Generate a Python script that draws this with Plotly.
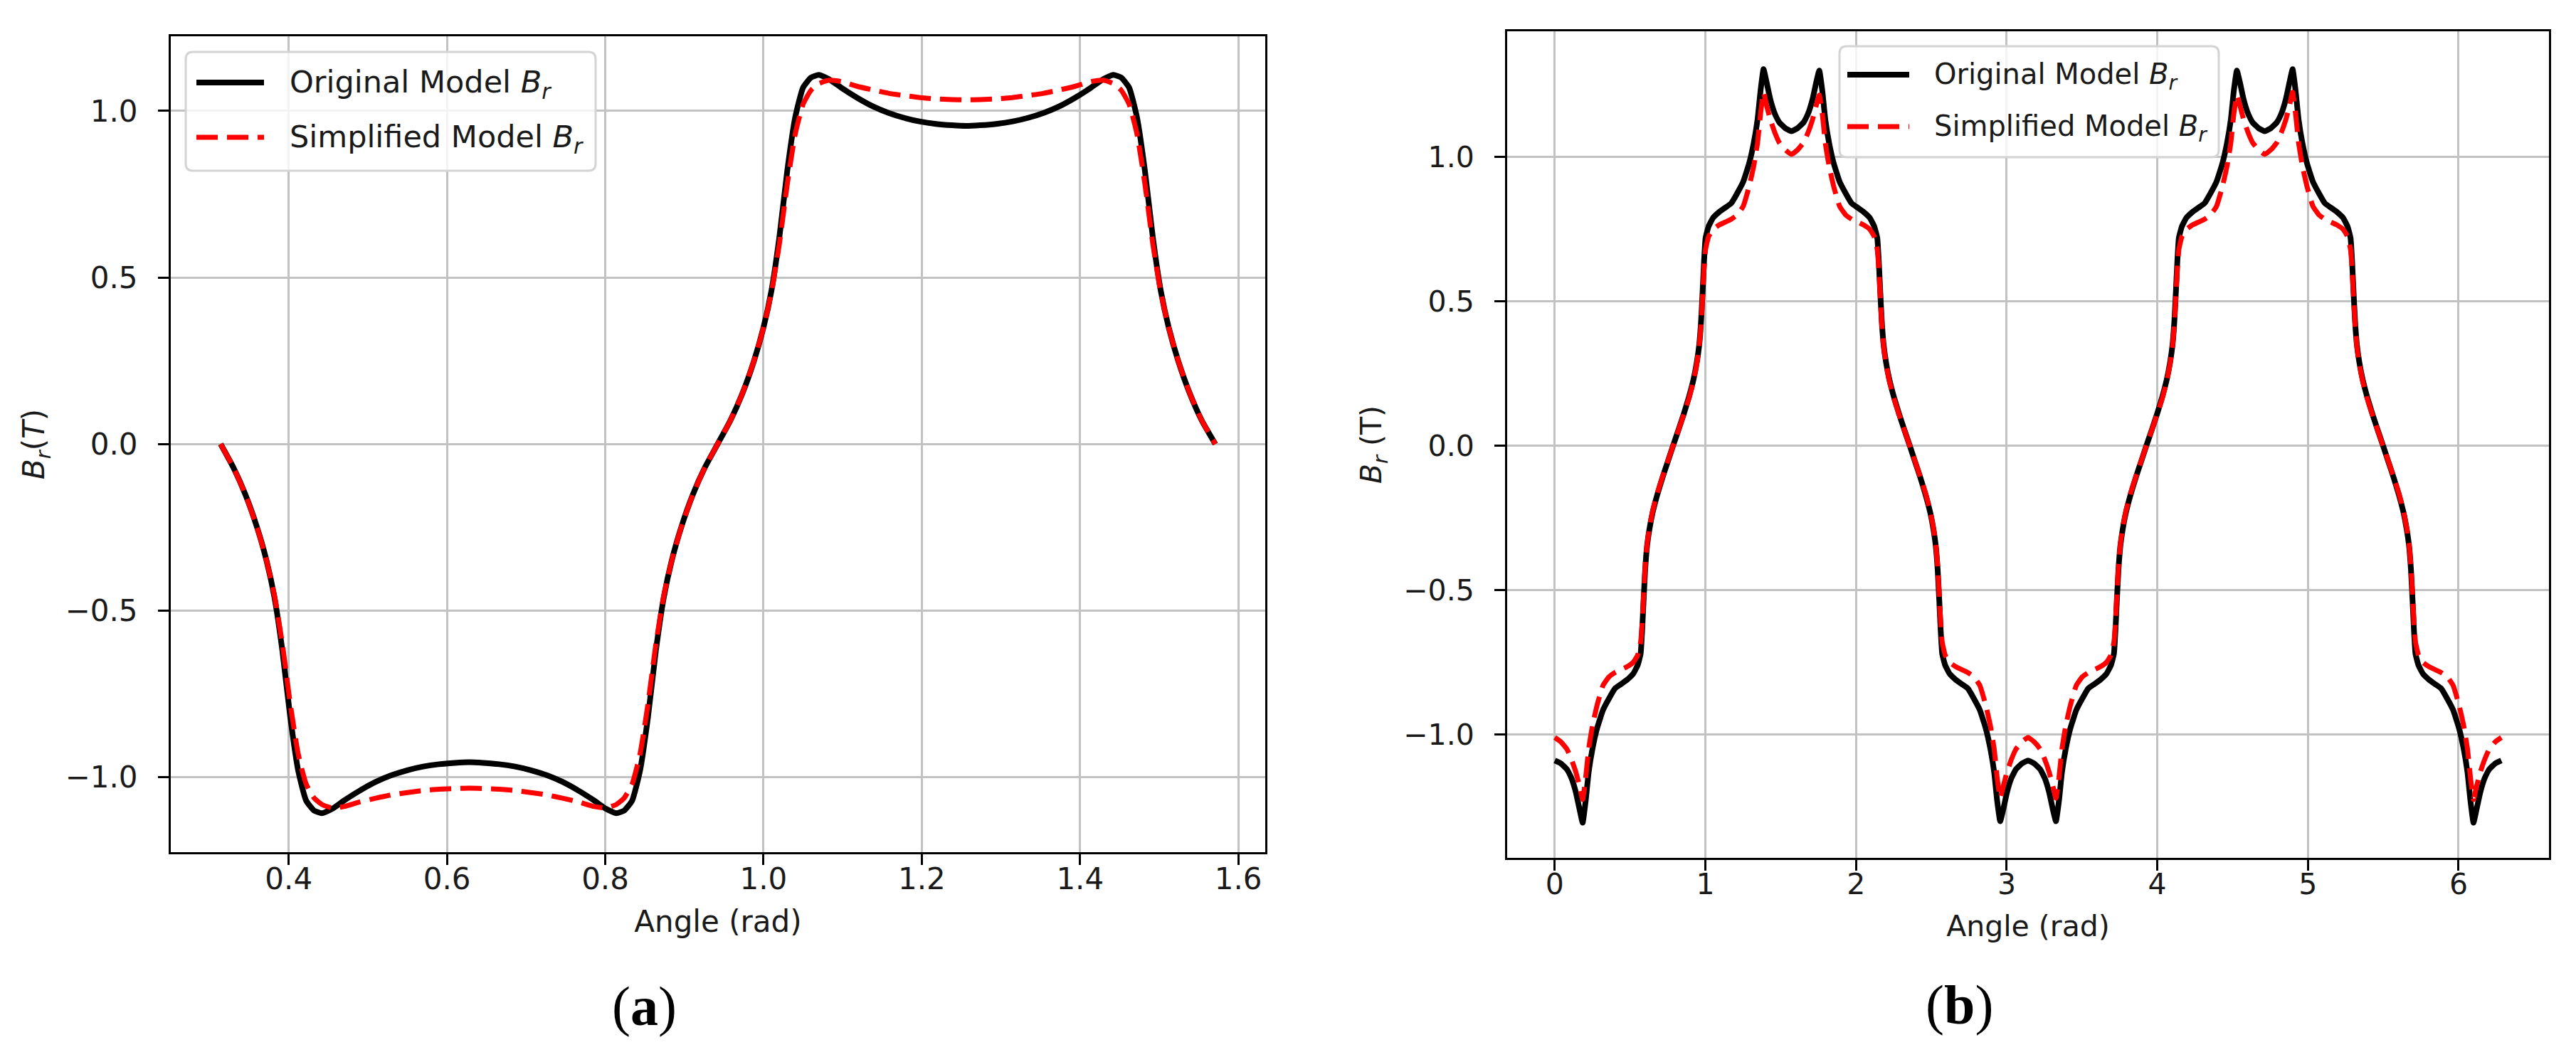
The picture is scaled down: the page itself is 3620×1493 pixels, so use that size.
import plotly.graph_objects as go

W, H = 3620, 1493

# ---------------- panel (a) data ----------------
angle_a = [0.314, 0.330, 0.345, 0.360, 0.372, 0.382, 0.392, 0.402, 0.412, 0.422, 0.432, 0.442,
           0.455, 0.470, 0.490, 0.510, 0.530, 0.550, 0.570, 0.590, 0.610, 0.628,
           0.646, 0.666, 0.686, 0.706, 0.726, 0.746, 0.766, 0.786, 0.801, 0.814, 0.824,
           0.834, 0.844, 0.854, 0.864, 0.874, 0.884, 0.896, 0.911, 0.926, 0.942,
           0.958, 0.973, 0.988, 1.000, 1.010, 1.020, 1.030, 1.040, 1.050, 1.060, 1.070,
           1.083, 1.098, 1.118, 1.138, 1.158, 1.178, 1.198, 1.218, 1.238, 1.256,
           1.274, 1.294, 1.314, 1.334, 1.354, 1.374, 1.394, 1.414, 1.429, 1.442, 1.452,
           1.462, 1.472, 1.482, 1.492, 1.502, 1.512, 1.524, 1.539, 1.554, 1.571]

orig_a = [0.000, -0.070, -0.150, -0.250, -0.350, -0.460, -0.620, -0.820, -0.980, -1.070, -1.100, -1.108,
          -1.095, -1.070, -1.040, -1.014, -0.994, -0.979, -0.968, -0.961, -0.957, -0.955,
          -0.957, -0.961, -0.968, -0.979, -0.994, -1.014, -1.040, -1.070, -1.095, -1.108, -1.100,
          -1.070, -0.980, -0.820, -0.620, -0.460, -0.350, -0.250, -0.150, -0.070, 0.000,
          0.070, 0.150, 0.250, 0.350, 0.460, 0.620, 0.820, 0.980, 1.070, 1.100, 1.108,
          1.095, 1.070, 1.040, 1.014, 0.994, 0.979, 0.968, 0.961, 0.957, 0.955,
          0.957, 0.961, 0.968, 0.979, 0.994, 1.014, 1.040, 1.070, 1.095, 1.108, 1.100,
          1.070, 0.980, 0.820, 0.620, 0.460, 0.350, 0.250, 0.150, 0.070, 0.000]

simp_a = [0.000, -0.070, -0.150, -0.250, -0.350, -0.455, -0.600, -0.780, -0.930, -1.020, -1.062, -1.082,
          -1.092, -1.088, -1.074, -1.063, -1.053, -1.046, -1.040, -1.036, -1.034, -1.033,
          -1.034, -1.036, -1.040, -1.046, -1.053, -1.063, -1.074, -1.088, -1.092, -1.082, -1.062,
          -1.020, -0.930, -0.780, -0.600, -0.455, -0.350, -0.250, -0.150, -0.070, 0.000,
          0.070, 0.150, 0.250, 0.350, 0.455, 0.600, 0.780, 0.930, 1.020, 1.062, 1.082,
          1.092, 1.088, 1.074, 1.063, 1.053, 1.046, 1.040, 1.036, 1.034, 1.033,
          1.034, 1.036, 1.040, 1.046, 1.053, 1.063, 1.074, 1.088, 1.092, 1.082, 1.062,
          1.020, 0.930, 0.780, 0.600, 0.455, 0.350, 0.250, 0.150, 0.070, 0.000]

# ---------------- panel (b) data ----------------
angle_b = [0.000, 0.040, 0.080, 0.110, 0.140, 0.165, 0.185, 0.205, 0.225, 0.250, 0.280, 0.320, 0.360, 0.400,
           0.440, 0.480, 0.520, 0.550, 0.570, 0.580, 0.590, 0.600, 0.612, 0.628, 0.650, 0.680, 0.715, 0.750, 0.785,
           0.821, 0.856, 0.891, 0.921, 0.943, 0.959, 0.971, 0.981, 0.991, 1.001, 1.021, 1.051, 1.091, 1.131,
           1.171, 1.211, 1.251, 1.291, 1.321, 1.346, 1.366, 1.386, 1.406, 1.431, 1.461, 1.491, 1.531, 1.571,
           1.611, 1.651, 1.681, 1.711, 1.736, 1.756, 1.776, 1.796, 1.821, 1.851, 1.891, 1.931, 1.971, 2.011,
           2.051, 2.091, 2.121, 2.141, 2.151, 2.161, 2.171, 2.183, 2.199, 2.221, 2.251, 2.286, 2.321, 2.357,
           2.392, 2.427, 2.462, 2.492, 2.514, 2.530, 2.542, 2.552, 2.562, 2.572, 2.592, 2.622, 2.662, 2.702,
           2.742, 2.782, 2.822, 2.862, 2.892, 2.917, 2.937, 2.957, 2.977, 3.002, 3.032, 3.062, 3.102, 3.142,
           3.182, 3.222, 3.252, 3.282, 3.307, 3.327, 3.347, 3.367, 3.392, 3.422, 3.462, 3.502, 3.542, 3.582,
           3.622, 3.662, 3.692, 3.712, 3.722, 3.732, 3.742, 3.754, 3.770, 3.792, 3.822, 3.857, 3.892, 3.927,
           3.963, 3.998, 4.033, 4.063, 4.085, 4.101, 4.113, 4.123, 4.133, 4.143, 4.163, 4.193, 4.233, 4.273,
           4.313, 4.353, 4.393, 4.433, 4.463, 4.488, 4.508, 4.528, 4.548, 4.573, 4.603, 4.633, 4.673, 4.713,
           4.753, 4.793, 4.823, 4.853, 4.878, 4.898, 4.918, 4.938, 4.963, 4.993, 5.033, 5.073, 5.113, 5.153,
           5.193, 5.233, 5.263, 5.283, 5.293, 5.303, 5.313, 5.325, 5.341, 5.363, 5.393, 5.428, 5.463, 5.499,
           5.534, 5.569, 5.604, 5.634, 5.656, 5.672, 5.684, 5.694, 5.704, 5.714, 5.734, 5.764, 5.804, 5.844,
           5.884, 5.924, 5.964, 6.004, 6.034, 6.059, 6.079, 6.099, 6.119, 6.144, 6.174, 6.204, 6.244, 6.284]

orig_b = [-1.090, -1.100, -1.120, -1.150, -1.200, -1.260, -1.305, -1.230, -1.130, -1.050, -0.980, -0.915, -0.875, -0.840,
          -0.825, -0.810, -0.790, -0.760, -0.720, -0.640, -0.530, -0.430, -0.350, -0.290, -0.230, -0.170, -0.110, -0.055, 0.000,
          0.055, 0.110, 0.170, 0.230, 0.290, 0.350, 0.430, 0.530, 0.640, 0.720, 0.760, 0.790, 0.810, 0.825,
          0.840, 0.875, 0.915, 0.980, 1.050, 1.130, 1.230, 1.305, 1.260, 1.200, 1.150, 1.120, 1.100, 1.090,
          1.100, 1.120, 1.150, 1.200, 1.260, 1.300, 1.230, 1.130, 1.050, 0.980, 0.915, 0.875, 0.840, 0.825,
          0.810, 0.790, 0.760, 0.720, 0.640, 0.530, 0.430, 0.350, 0.290, 0.230, 0.170, 0.110, 0.055, 0.000,
          -0.055, -0.110, -0.170, -0.230, -0.290, -0.350, -0.430, -0.530, -0.640, -0.720, -0.760, -0.790, -0.810, -0.825,
          -0.840, -0.875, -0.915, -0.980, -1.050, -1.130, -1.230, -1.300, -1.260, -1.200, -1.150, -1.120, -1.100, -1.090,
          -1.100, -1.120, -1.150, -1.200, -1.260, -1.300, -1.230, -1.130, -1.050, -0.980, -0.915, -0.875, -0.840, -0.825,
          -0.810, -0.790, -0.760, -0.720, -0.640, -0.530, -0.430, -0.350, -0.290, -0.230, -0.170, -0.110, -0.055, 0.000,
          0.055, 0.110, 0.170, 0.230, 0.290, 0.350, 0.430, 0.530, 0.640, 0.720, 0.760, 0.790, 0.810, 0.825,
          0.840, 0.875, 0.915, 0.980, 1.050, 1.130, 1.230, 1.300, 1.260, 1.200, 1.150, 1.120, 1.100, 1.090,
          1.100, 1.120, 1.150, 1.200, 1.260, 1.305, 1.230, 1.130, 1.050, 0.980, 0.915, 0.875, 0.840, 0.825,
          0.810, 0.790, 0.760, 0.720, 0.640, 0.530, 0.430, 0.350, 0.290, 0.230, 0.170, 0.110, 0.055, 0.000,
          -0.055, -0.110, -0.170, -0.230, -0.290, -0.350, -0.430, -0.530, -0.640, -0.720, -0.760, -0.790, -0.810, -0.825,
          -0.840, -0.875, -0.915, -0.980, -1.050, -1.130, -1.230, -1.305, -1.260, -1.200, -1.150, -1.120, -1.100, -1.090]

simp_b = [-1.010, -1.025, -1.050, -1.085, -1.130, -1.180, -1.225, -1.150, -1.050, -0.970, -0.900, -0.830, -0.800, -0.785,
          -0.775, -0.765, -0.750, -0.725, -0.680, -0.615, -0.515, -0.420, -0.345, -0.285, -0.225, -0.165, -0.108, -0.054, 0.000,
          0.054, 0.108, 0.165, 0.225, 0.285, 0.345, 0.420, 0.515, 0.615, 0.680, 0.725, 0.750, 0.765, 0.775,
          0.785, 0.800, 0.830, 0.900, 0.970, 1.050, 1.150, 1.225, 1.180, 1.130, 1.085, 1.050, 1.025, 1.010,
          1.025, 1.050, 1.085, 1.130, 1.180, 1.215, 1.150, 1.050, 0.970, 0.900, 0.830, 0.800, 0.785, 0.775,
          0.765, 0.750, 0.725, 0.680, 0.615, 0.515, 0.420, 0.345, 0.285, 0.225, 0.165, 0.108, 0.054, 0.000,
          -0.054, -0.108, -0.165, -0.225, -0.285, -0.345, -0.420, -0.515, -0.615, -0.680, -0.725, -0.750, -0.765, -0.775,
          -0.785, -0.800, -0.830, -0.900, -0.970, -1.050, -1.150, -1.220, -1.180, -1.130, -1.085, -1.050, -1.025, -1.010,
          -1.025, -1.050, -1.085, -1.130, -1.180, -1.220, -1.150, -1.050, -0.970, -0.900, -0.830, -0.800, -0.785, -0.775,
          -0.765, -0.750, -0.725, -0.680, -0.615, -0.515, -0.420, -0.345, -0.285, -0.225, -0.165, -0.108, -0.054, 0.000,
          0.054, 0.108, 0.165, 0.225, 0.285, 0.345, 0.420, 0.515, 0.615, 0.680, 0.725, 0.750, 0.765, 0.775,
          0.785, 0.800, 0.830, 0.900, 0.970, 1.050, 1.150, 1.215, 1.180, 1.130, 1.085, 1.050, 1.025, 1.010,
          1.025, 1.050, 1.085, 1.130, 1.180, 1.225, 1.150, 1.050, 0.970, 0.900, 0.830, 0.800, 0.785, 0.775,
          0.765, 0.750, 0.725, 0.680, 0.615, 0.515, 0.420, 0.345, 0.285, 0.225, 0.165, 0.108, 0.054, 0.000,
          -0.054, -0.108, -0.165, -0.225, -0.285, -0.345, -0.420, -0.515, -0.615, -0.680, -0.725, -0.750, -0.765, -0.775,
          -0.785, -0.800, -0.830, -0.900, -0.970, -1.050, -1.150, -1.225, -1.180, -1.130, -1.085, -1.050, -1.025, -1.010]

# ---------------- ticks / labels ----------------
xticks_a = [0.4, 0.6, 0.8, 1.0, 1.2, 1.4, 1.6]
xticks_b = [0, 1, 2, 3, 4, 5, 6]
yticks = [-1.0, -0.5, 0.0, 0.5, 1.0]
series_labels = ["Original Model", "Simplified Model"]
x_title = "Angle (rad)"
captions = ["(<b>a</b>)", "(<b>b</b>)"]

FONT = "DejaVu Sans"
TXT = "#1a1a1a"
BLACK_W = 8
RED_W = 7
DASH = "30px,13px"


def br(fs):
    """B with subscript r, sizes written explicitly."""
    return ('<span style="font-style:italic;font-size:%dpx">B</span>'
            '<sub><span style="font-style:italic;font-size:%dpx">r</span></sub>' % (fs, round(fs * 0.7)))


def px(x):
    return x / W


def py(y):
    return 1 - y / H


fig = go.Figure()
fig.add_trace(go.Scatter(x=angle_a, y=orig_a, mode="lines", xaxis="x", yaxis="y", showlegend=False,
                         name="Original Model", line=dict(color="black", width=BLACK_W, shape="spline", smoothing=0.5)))
fig.add_trace(go.Scatter(x=angle_a, y=simp_a, mode="lines", xaxis="x", yaxis="y", showlegend=False,
                         name="Simplified Model",
                         line=dict(color="#ff0000", width=RED_W, dash=DASH, shape="spline", smoothing=0.5)))
fig.add_trace(go.Scatter(x=angle_b, y=orig_b, mode="lines", xaxis="x2", yaxis="y2", showlegend=False,
                         name="Original Model", line=dict(color="black", width=BLACK_W, shape="spline", smoothing=0.4)))
fig.add_trace(go.Scatter(x=angle_b, y=simp_b, mode="lines", xaxis="x2", yaxis="y2", showlegend=False,
                         name="Simplified Model",
                         line=dict(color="#ff0000", width=RED_W, dash=DASH, shape="spline", smoothing=0.4)))


def axis(fs, **kw):
    d = dict(showline=True, linecolor="black", linewidth=3, mirror=True,
             ticks="outside", ticklen=15, tickwidth=3, tickcolor="black",
             showgrid=True, gridcolor="#c2c2c2", gridwidth=3, zeroline=False,
             tickfont=dict(family=FONT, size=fs, color=TXT))
    d.update(kw)
    return d


y_title_a = br(42) + '<span style="font-size:42px">(</span><span style="font-style:italic;font-size:42px">T</span><span style="font-size:42px">)</span>'
y_title_b = br(41) + '<span style="font-size:41px"> (T)</span>'

fig.update_layout(
    width=W, height=H, margin=dict(l=0, r=0, t=0, b=0),
    paper_bgcolor="white", plot_bgcolor="white", showlegend=False,
    xaxis=axis(42, domain=[px(232), px(1770)], range=[0.251, 1.634], anchor="y",
               tickvals=xticks_a, tickformat=".1f", ticklabelstandoff=-16,
               title=dict(text=x_title, font=dict(family=FONT, size=42, color=TXT), standoff=22)),
    yaxis=axis(42, domain=[py(1190), py(43)], range=[-1.225, 1.224], anchor="x",
               tickvals=yticks, tickformat=".1f", ticklabelstandoff=20,
               title=dict(text=y_title_a, font=dict(family=FONT, size=42, color=TXT), standoff=16)),
    xaxis2=axis(41, domain=[px(2110), px(3574)], range=[-0.316, 6.600], anchor="y2",
                tickvals=xticks_b, tickformat="d", ticklabelstandoff=-16,
                title=dict(text=x_title, font=dict(family=FONT, size=41, color=TXT), standoff=22)),
    yaxis2=axis(41, domain=[py(1198), py(36)], range=[-1.427, 1.436], anchor="x2",
                tickvals=yticks, tickformat=".1f", ticklabelstandoff=20,
                title=dict(text=y_title_b, font=dict(family=FONT, size=41, color=TXT), standoff=18)),
)


def rounded_box(x0, y0, x1, y1, r=10):
    rx, ry = r / W, r / H
    X0, X1 = px(x0), px(x1)
    Y0, Y1 = py(y1), py(y0)  # bottom, top in paper
    return (f"M {X0 + rx},{Y1} L {X1 - rx},{Y1} Q {X1},{Y1} {X1},{Y1 - ry} "
            f"L {X1},{Y0 + ry} Q {X1},{Y0} {X1 - rx},{Y0} L {X0 + rx},{Y0} "
            f"Q {X0},{Y0} {X0},{Y0 + ry} L {X0},{Y1 - ry} Q {X0},{Y1} {X0 + rx},{Y1} Z")


# ---------------- legends (drawn as in the reference) ----------------
shapes = []
annotations = []
legend_specs = [
    # box x0, y0, x1, y1, sample x0, x1, row y (black), row y (red), text x, font size
    (253, 65, 829, 232, 268, 363, 108, 185, 397, 43),
    (2577, 57, 3110, 213, 2588, 2675, 97, 170, 2708, 40),
]
for (bx0, by0, bx1, by1, sx0, sx1, r1, r2, tx, fs) in legend_specs:
    shapes.append(dict(type="path", xref="paper", yref="paper", layer="above",
                       path=rounded_box(bx0, by0, bx1, by1),
                       fillcolor="rgba(255,255,255,0.8)", line=dict(color="#d4d4d4", width=3)))
    shapes.append(dict(type="line", xref="paper", yref="paper", layer="above",
                       x0=px(sx0), x1=px(sx1), y0=py(r1), y1=py(r1),
                       line=dict(color="black", width=BLACK_W)))
    shapes.append(dict(type="line", xref="paper", yref="paper", layer="above",
                       x0=px(sx0), x1=px(sx1), y0=py(r2), y1=py(r2),
                       line=dict(color="#ff0000", width=RED_W, dash=DASH)))
    for label, ry in zip(series_labels, (r1, r2)):
        annotations.append(dict(xref="paper", yref="paper", x=px(tx), y=py(ry + 2), xanchor="left",
                                yanchor="middle", showarrow=False, text=label + " " + br(fs),
                                font=dict(family=FONT, size=fs, color=TXT)))

# captions
for cap, cx, cy in zip(captions, (897, 2745), (1406, 1404)):
    annotations.append(dict(xref="paper", yref="paper", x=px(cx), y=py(cy), xanchor="center",
                            yanchor="middle", showarrow=False, text=cap,
                            font=dict(family="Liberation Serif", size=78, color="black")))

fig.update_layout(shapes=shapes, annotations=annotations)
fig.write_html("out.html")
